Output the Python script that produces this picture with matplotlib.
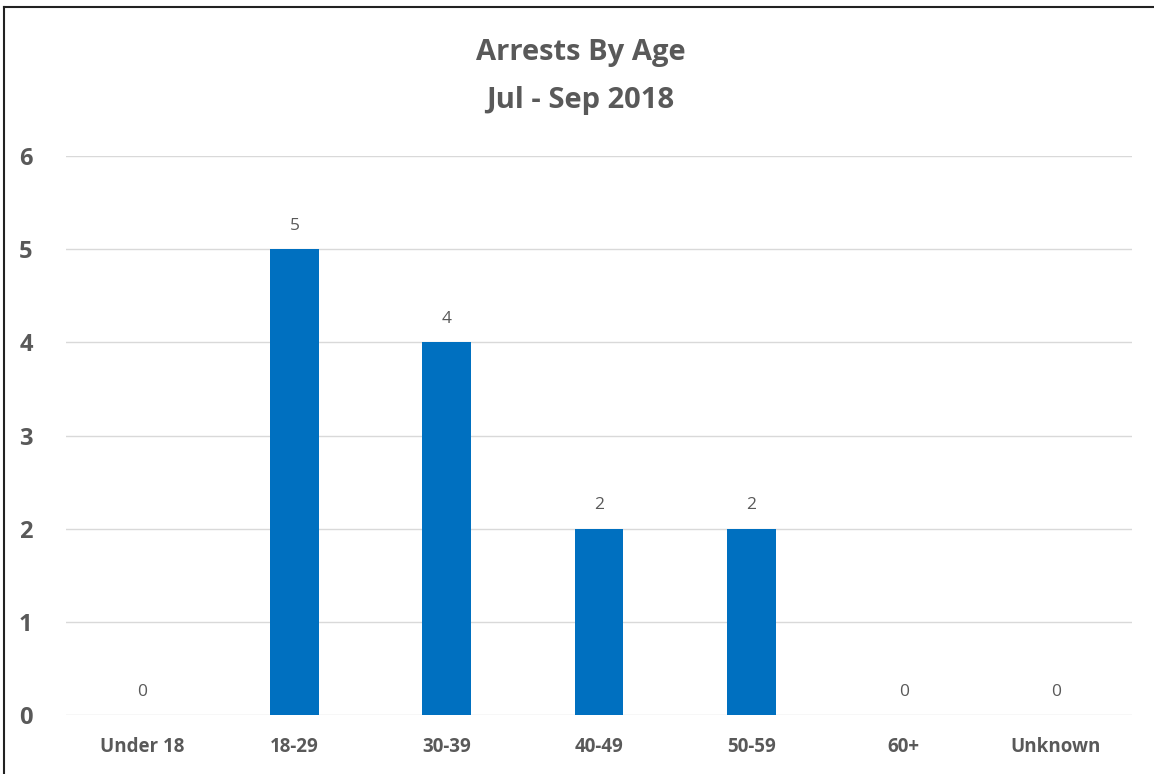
import matplotlib.pyplot as plt
from matplotlib.lines import Line2D

categories = ['Under 18', '18-29', '30-39', '40-49', '50-59', '60+', 'Unknown']
arrests = [0, 5, 4, 2, 2, 0, 0]
yticks = [0, 1, 2, 3, 4, 5, 6]

plt.rcParams['font.family'] = ['Open Sans', 'DejaVu Sans']
gray = '#595959'

fig = plt.figure(figsize=(11.54, 7.74), dpi=100)
ax = fig.add_axes([0.0572, 0.0762, 0.9238, 0.7222])

x = range(len(categories))
ax.bar(x, arrests, width=0.32, color='#0070C0', zorder=3)

# value labels above bars
for i, v in enumerate(arrests):
    ax.annotate(str(v), (i, v), xytext=(0, 11), textcoords='offset points',
                ha='center', va='bottom', fontsize=12.5, color=gray)

ax.set_xlim(-0.5, len(categories) - 0.5)
ax.set_ylim(0, 6)
ax.set_yticks(yticks)
ax.set_yticklabels([str(t) for t in yticks], fontsize=17, fontweight='bold', color=gray)
ax.set_xticks(list(x))
ax.set_xticklabels(categories, fontsize=13.5, fontweight='bold', color=gray)
ax.tick_params(axis='both', length=0)
ax.tick_params(axis='y', pad=24)
ax.tick_params(axis='x', pad=16)
ax.grid(axis='y', color='#d9d9d9', linewidth=1, zorder=0)
for s in ax.spines.values():
    s.set_visible(False)

fig.text(0.503, 0.932, 'Arrests By Age', ha='center', va='center',
         fontsize=21, fontweight='bold', color=gray)
fig.text(0.503, 0.870, 'Jul - Sep 2018', ha='center', va='center',
         fontsize=21, fontweight='bold', color=gray)

# border only on left and top (image is cropped)
fig.lines.append(Line2D([0.0035, 0.0035], [0, 0.991], transform=fig.transFigure,
                        color='#222222', linewidth=1.5))
fig.lines.append(Line2D([0.0035, 1.0], [0.991, 0.991], transform=fig.transFigure,
                        color='#222222', linewidth=1.5))

fig.savefig('out.png', dpi=100)
